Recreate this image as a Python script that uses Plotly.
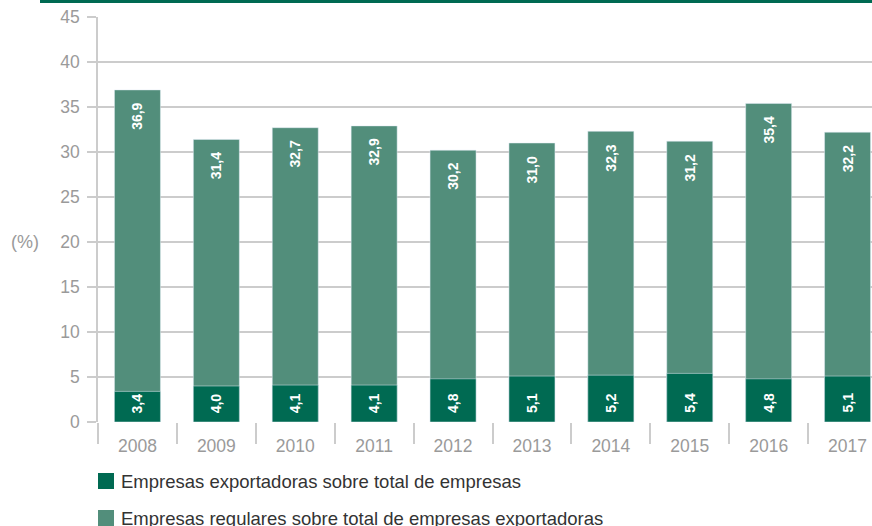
import plotly.graph_objects as go

# Data
years = ["2008", "2009", "2010", "2011", "2012", "2013", "2014", "2015", "2016", "2017"]
exportadoras = [3.4, 4.0, 4.1, 4.1, 4.8, 5.1, 5.2, 5.4, 4.8, 5.1]
regulares = [36.9, 31.4, 32.7, 32.9, 30.2, 31.0, 32.3, 31.2, 35.4, 32.2]
series_names = [
    "Empresas exportadoras sobre total de empresas",
    "Empresas regulares sobre total de empresas exportadoras",
]
y_ticks = [0, 5, 10, 15, 20, 25, 30, 35, 40, 45]

DARK = "#006a52"
LIGHT = "#528e7b"
GRID = "#cccccc"
TICKFONT = "#9a9a9a"
FONT = "Arial, Liberation Sans, sans-serif"

W, H = 872, 526
ML, MT, MB = 98, 17, 104
plot_w = W - ML
plot_h = H - MT - MB


def fmt(v):
    return f"{v:.1f}".replace(".", ",")


fig = go.Figure()
fig.add_trace(go.Bar(x=years, y=regulares, marker_color=LIGHT, width=0.583,
                     name=series_names[1], showlegend=False))
fig.add_trace(go.Bar(x=years, y=exportadoras, marker_color=DARK, width=0.583,
                     name=series_names[0], showlegend=False))

annotations = []
label_font = dict(family=FONT, size=14, color="white", weight="bold")
# value labels, rotated: near the top of the light bars, near the base of the dark bars
for i, v in enumerate(regulares):
    annotations.append(dict(x=i, y=v, xref="x", yref="y", text=fmt(v), textangle=-90,
                            showarrow=False, xanchor="center", yanchor="top",
                            yshift=-11, font=label_font))
for i, v in enumerate(exportadoras):
    annotations.append(dict(x=i, y=0, xref="x", yref="y", text=fmt(v), textangle=-90,
                            showarrow=False, xanchor="center", yanchor="bottom",
                            yshift=7, font=label_font))

# unit label on the left
annotations.append(dict(xref="paper", yref="y", x=(25 - ML) / plot_w, y=20, text="(%)",
                        showarrow=False, xanchor="center", yanchor="middle",
                        font=dict(family=FONT, size=18, color=TICKFONT)))

shapes = []
# green rule across the top
shapes.append(dict(type="rect", xref="paper", yref="paper",
                   x0=(40 - ML) / plot_w, x1=1.0,
                   y0=(H - MB - 0) / plot_h, y1=(H - MB - 3) / plot_h,
                   fillcolor=DARK, line_width=0, layer="above"))

# legend drawn below the plot
legend_colors = [DARK, LIGHT]
for i, (name, col) in enumerate(zip(series_names, legend_colors)):
    top_px = 473 + 37 * i
    y0 = (H - MB - top_px) / plot_h
    y1 = (H - MB - (top_px + 16)) / plot_h
    shapes.append(dict(type="rect", xref="paper", yref="paper",
                       x0=0, x1=16 / plot_w, y0=y1, y1=y0,
                       fillcolor=col, line_width=0))
    annotations.append(dict(xref="paper", yref="paper", x=21 / plot_w,
                            y=(H - MB - (top_px + 8)) / plot_h, text=name,
                            showarrow=False, xanchor="left", yanchor="middle",
                            font=dict(family=FONT, size=18.5, color="#333333")))

n = len(years)
fig.update_layout(
    width=W, height=H,
    margin=dict(l=ML, r=0, t=MT, b=MB, pad=0),
    paper_bgcolor="white", plot_bgcolor="white",
    barmode="overlay",
    showlegend=False,
    font=dict(family=FONT),
    annotations=annotations,
    shapes=shapes,
    xaxis=dict(
        type="category", range=[-0.5, n - 0.5 - 15 / 78.9],
        tickson="boundaries", ticks="outside", ticklen=21, tickwidth=1.5,
        tickcolor=GRID, showgrid=False, zeroline=False, showline=False,
        tickfont=dict(family=FONT, size=17.5, color=TICKFONT),
        ticklabelstandoff=11,
    ),
    yaxis=dict(
        range=[0, 45], tickvals=y_ticks, ticks="outside", ticklen=9,
        tickwidth=1.5, tickcolor=GRID, showgrid=True, gridcolor=GRID,
        gridwidth=1.5, zeroline=False, showline=True, linecolor=GRID,
        linewidth=1.5,
        tickfont=dict(family=FONT, size=17.5, color=TICKFONT),
        ticklabelstandoff=4,
    ),
)

fig.write_html("out.html")
